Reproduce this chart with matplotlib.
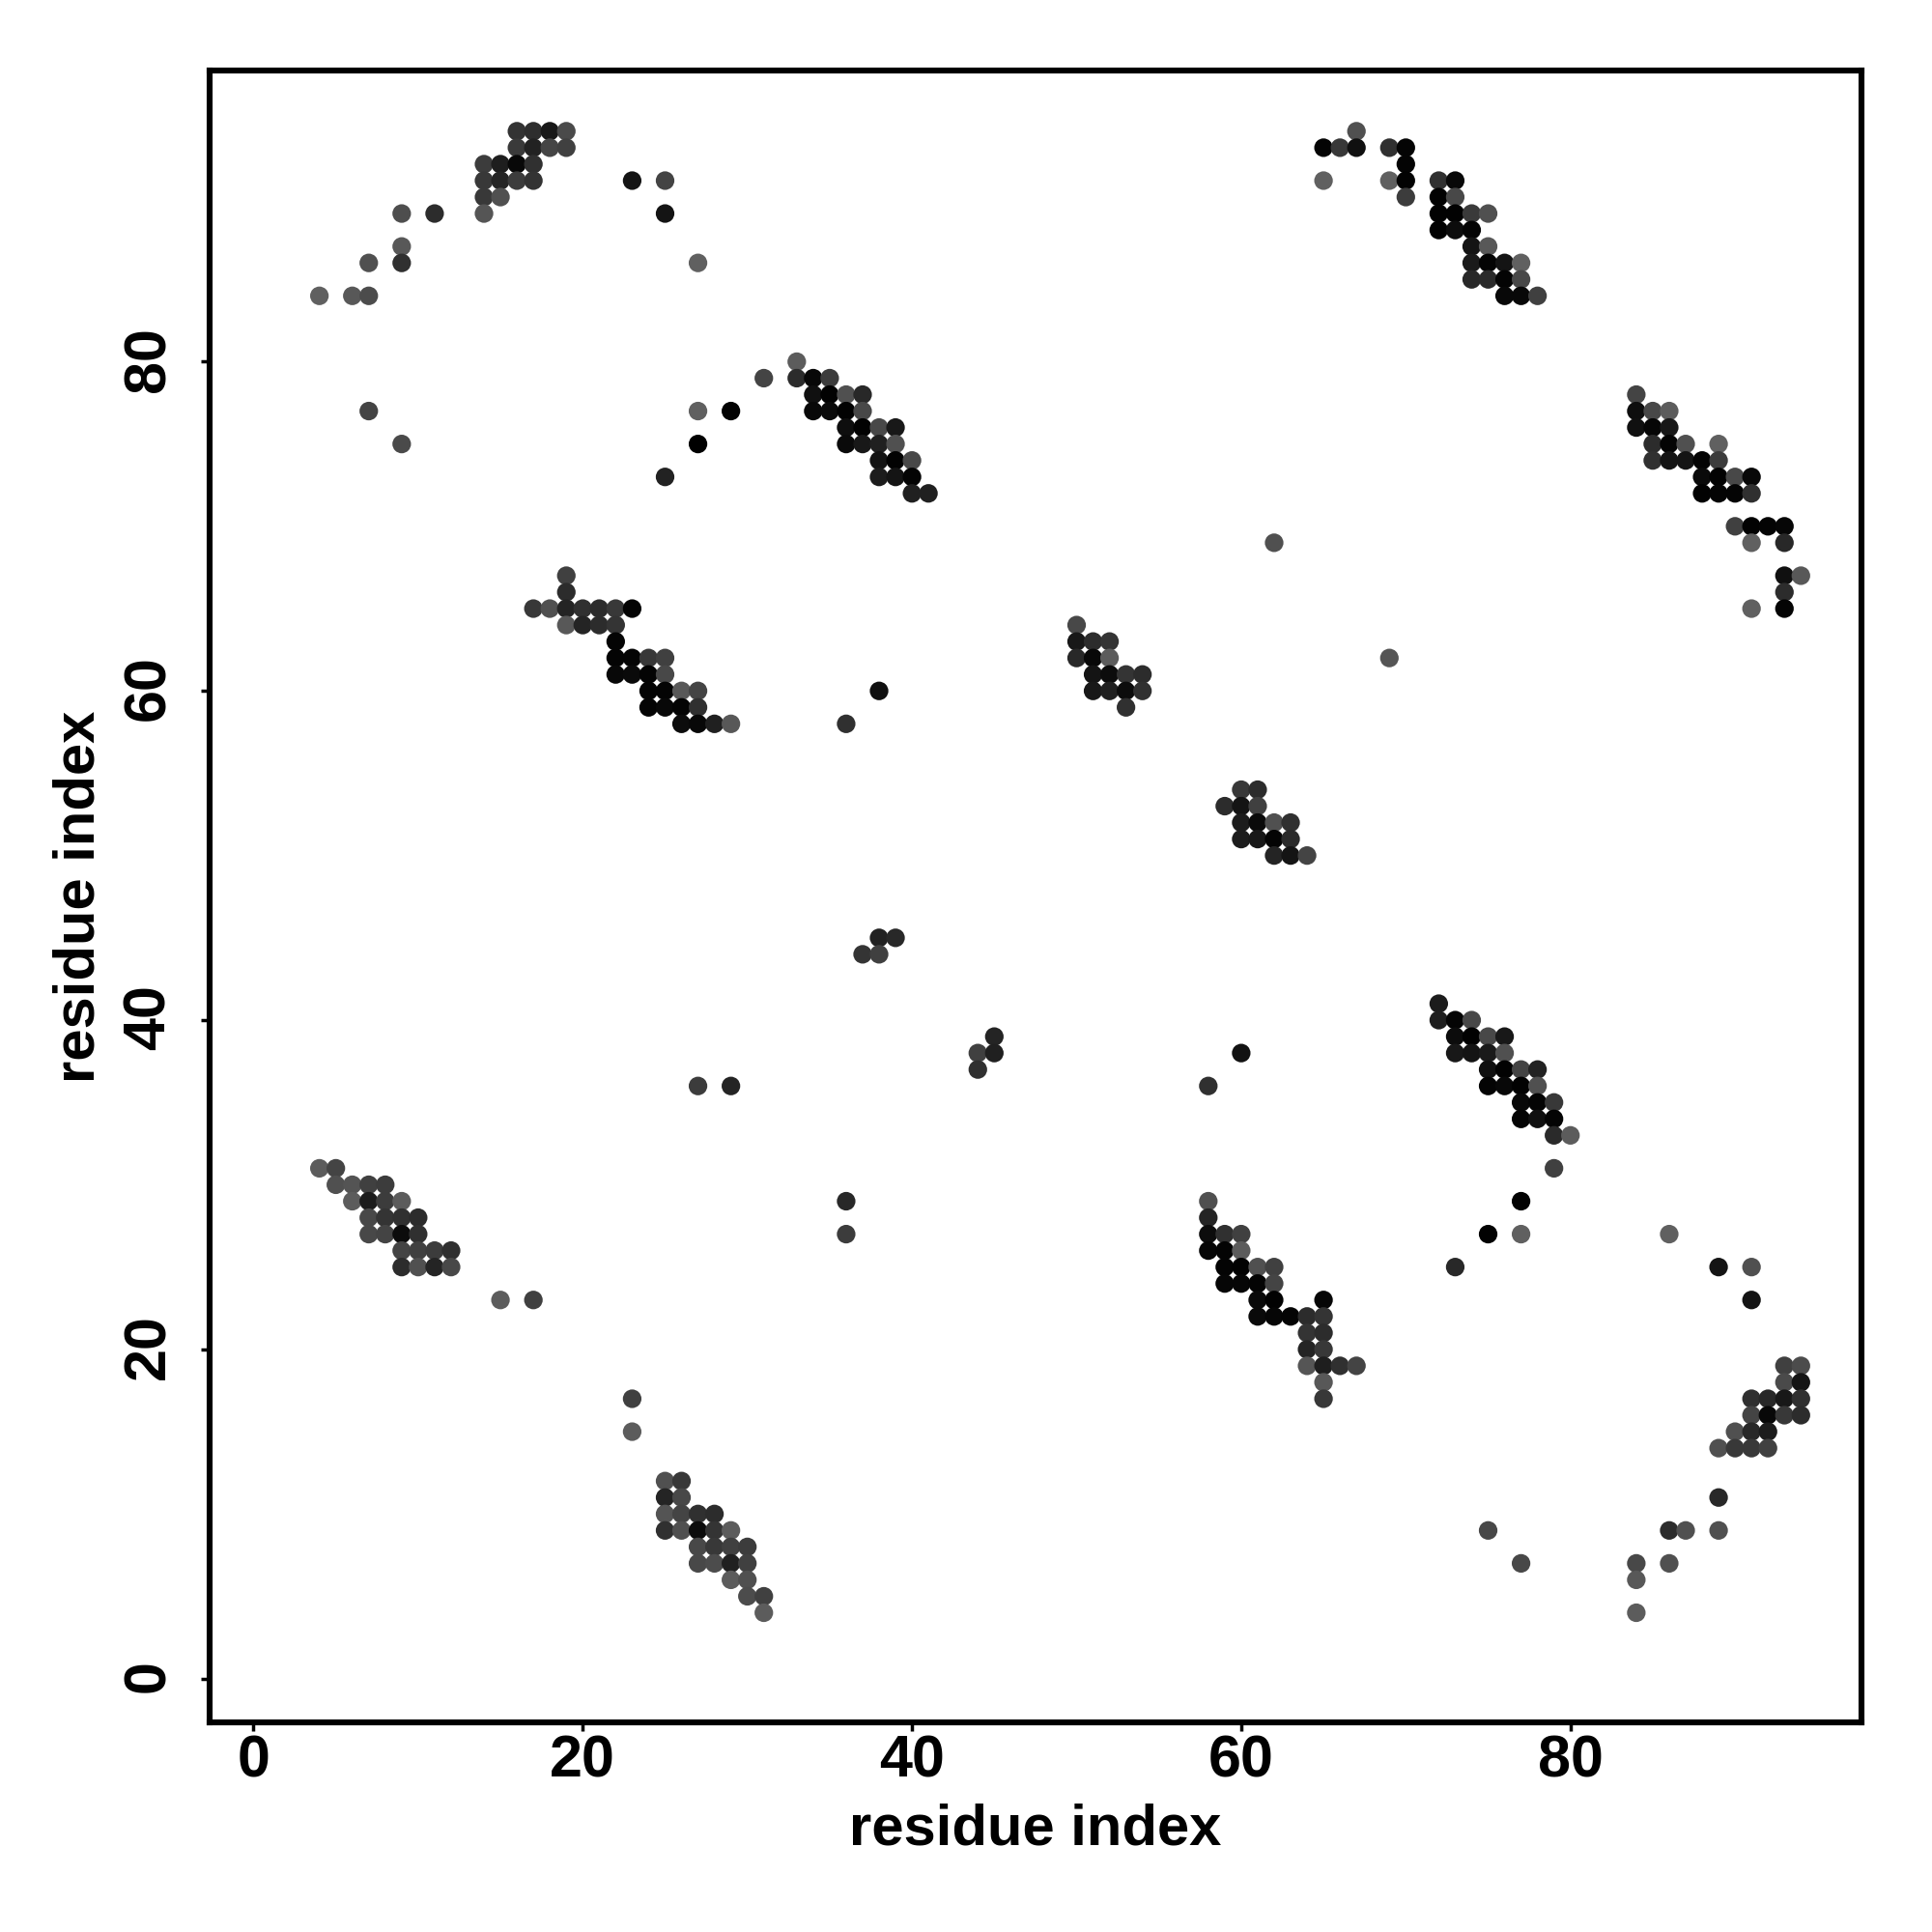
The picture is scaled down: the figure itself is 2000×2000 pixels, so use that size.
"""Residue contact map drawn in grey levels."""

import matplotlib

matplotlib.use("Agg")
import matplotlib.pyplot as plt
from matplotlib.transforms import ScaledTranslation

plt.rcParams["font.family"] = ["Liberation Sans", "DejaVu Sans"]
plt.rcParams["font.weight"] = "bold"

# one entry per row of the map: the y residue, the x residues, their grey level (0-255)
row_index = [
    94, 93, 92, 91, 90, 89, 88, 87, 86, 85, 84, 80, 79, 78, 77, 76, 75, 74, 73, 72,
    70, 69, 67, 66, 65, 64, 63, 62, 61, 60, 59, 58, 54, 53, 52, 51, 50, 45, 44, 41,
    40, 39, 38, 37, 36, 35, 34, 33, 31, 30, 29, 28, 27, 26, 25, 24, 23, 22, 21, 20,
    19, 18, 17, 16, 15, 14, 12, 11, 10, 9, 8, 7, 6, 5, 4,
]
row_residues = [
    [16, 17, 18, 19, 67],
    [16, 17, 18, 19, 65, 66, 67, 69, 70],
    [14, 15, 16, 17, 70],
    [14, 15, 16, 17, 23, 25, 65, 69, 70, 72, 73],
    [14, 15, 70, 72, 73],
    [9, 11, 14, 25, 72, 73, 74, 75],
    [72, 73, 74],
    [9, 74, 75],
    [7, 9, 27, 74, 75, 76, 77],
    [74, 75, 76, 77],
    [4, 6, 7, 76, 77, 78],
    [33],
    [31, 33, 34, 35],
    [34, 35, 36, 37, 84],
    [7, 27, 29, 34, 35, 36, 37, 84, 85, 86],
    [36, 37, 38, 39, 84, 85, 86],
    [9, 27, 36, 37, 38, 39, 85, 86, 87, 89],
    [38, 39, 40, 85, 86, 87, 88, 89],
    [25, 38, 39, 40, 88, 89, 90, 91],
    [40, 41, 88, 89, 90, 91],
    [90, 91, 92, 93],
    [62, 91, 93],
    [19, 93, 94],
    [19, 93],
    [17, 18, 19, 20, 21, 22, 23, 91, 93],
    [19, 20, 21, 22, 50],
    [22, 50, 51, 52],
    [22, 23, 24, 25, 50, 51, 52, 69],
    [22, 23, 24, 25, 51, 52, 53, 54],
    [24, 25, 26, 27, 38, 51, 52, 53, 54],
    [24, 25, 26, 27, 53],
    [26, 27, 28, 29, 36],
    [60, 61],
    [59, 60, 61],
    [60, 61, 62, 63],
    [60, 61, 62, 63],
    [62, 63, 64],
    [38, 39],
    [37, 38],
    [72],
    [72, 73, 74],
    [45, 73, 74, 75, 76],
    [44, 45, 60, 73, 74, 75, 76],
    [44, 75, 76, 77, 78],
    [27, 29, 58, 75, 76, 77, 78],
    [77, 78, 79],
    [77, 78, 79],
    [79, 80],
    [4, 5, 79],
    [5, 6, 7, 8],
    [6, 7, 8, 9, 36, 58, 77],
    [7, 8, 9, 10, 58],
    [7, 8, 9, 10, 36, 58, 59, 60, 75, 77, 86],
    [9, 10, 11, 12, 58, 59, 60],
    [9, 10, 11, 12, 59, 60, 61, 62, 73, 89, 91],
    [59, 60, 61, 62],
    [15, 17, 61, 62, 65, 91],
    [61, 62, 63, 64, 65],
    [64, 65],
    [64, 65],
    [64, 65, 66, 67, 93, 94],
    [65, 93, 94],
    [23, 65, 91, 92, 93, 94],
    [91, 92, 93, 94],
    [23, 90, 91, 92],
    [89, 90, 91, 92],
    [25, 26],
    [25, 26, 89],
    [25, 26, 27, 28],
    [25, 26, 27, 28, 29, 75, 86, 87, 89],
    [27, 28, 29, 30],
    [27, 28, 29, 30, 77, 84, 86],
    [29, 30, 84],
    [30, 31],
    [31, 84],
]
row_greys = [
    [0x33, 0x2e, 0x18, 0x4a, 0x50],
    [0x3a, 0x22, 0x45, 0x40, 0x04, 0x38, 0x10, 0x30, 0x04],
    [0x3c, 0x1e, 0x08, 0x30, 0x04],
    [0x38, 0x25, 0x3c, 0x33, 0x14, 0x44, 0x60, 0x60, 0x02, 0x30, 0x08],
    [0x38, 0x50, 0x3c, 0x02, 0x48],
    [0x4e, 0x2c, 0x55, 0x14, 0x02, 0x02, 0x3a, 0x50],
    [0x02, 0x0c, 0x04],
    [0x58, 0x14, 0x58],
    [0x50, 0x30, 0x60, 0x1a, 0x04, 0x14, 0x60],
    [0x28, 0x2a, 0x04, 0x48],
    [0x60, 0x58, 0x4c, 0x08, 0x08, 0x40],
    [0x5c],
    [0x44, 0x2c, 0x08, 0x3c],
    [0x10, 0x02, 0x50, 0x28, 0x44],
    [0x44, 0x60, 0x02, 0x08, 0x0a, 0x02, 0x48, 0x0e, 0x48, 0x5c],
    [0x0e, 0x02, 0x48, 0x18, 0x10, 0x06, 0x18],
    [0x4a, 0x00, 0x0a, 0x18, 0x20, 0x50, 0x2c, 0x04, 0x50, 0x60],
    [0x14, 0x02, 0x48, 0x30, 0x14, 0x14, 0x04, 0x3c],
    [0x22, 0x1c, 0x14, 0x04, 0x0a, 0x02, 0x48, 0x08],
    [0x20, 0x20, 0x02, 0x04, 0x04, 0x30],
    [0x40, 0x02, 0x04, 0x06],
    [0x50, 0x60, 0x28],
    [0x40, 0x10, 0x58],
    [0x2c, 0x2c],
    [0x38, 0x50, 0x24, 0x30, 0x2c, 0x38, 0x04, 0x60, 0x04],
    [0x58, 0x24, 0x2c, 0x34, 0x48],
    [0x04, 0x18, 0x2c, 0x34],
    [0x04, 0x04, 0x38, 0x40, 0x28, 0x08, 0x5c, 0x55],
    [0x08, 0x0a, 0x04, 0x48, 0x14, 0x0c, 0x34, 0x2c],
    [0x04, 0x04, 0x58, 0x44, 0x10, 0x18, 0x20, 0x0c, 0x30],
    [0x04, 0x08, 0x04, 0x30, 0x30],
    [0x0c, 0x08, 0x20, 0x58, 0x30],
    [0x38, 0x2c],
    [0x2c, 0x14, 0x40],
    [0x1c, 0x0a, 0x50, 0x30],
    [0x1c, 0x18, 0x04, 0x2a],
    [0x24, 0x14, 0x44],
    [0x22, 0x28],
    [0x34, 0x40],
    [0x1c],
    [0x1e, 0x04, 0x48],
    [0x24, 0x0c, 0x02, 0x48, 0x18],
    [0x40, 0x20, 0x12, 0x18, 0x14, 0x1a, 0x50],
    [0x30, 0x10, 0x02, 0x44, 0x22],
    [0x3c, 0x24, 0x30, 0x04, 0x08, 0x02, 0x50],
    [0x08, 0x04, 0x38],
    [0x04, 0x10, 0x04],
    [0x2a, 0x5c],
    [0x5c, 0x44, 0x40],
    [0x50, 0x54, 0x40, 0x3c],
    [0x5c, 0x1c, 0x3c, 0x5c, 0x28, 0x50, 0x02],
    [0x48, 0x34, 0x30, 0x2c, 0x24],
    [0x48, 0x44, 0x0c, 0x30, 0x3c, 0x0c, 0x30, 0x40, 0x02, 0x60, 0x60],
    [0x44, 0x40, 0x3c, 0x30, 0x06, 0x04, 0x5c],
    [0x2c, 0x50, 0x24, 0x48, 0x04, 0x02, 0x50, 0x40, 0x28, 0x14, 0x50],
    [0x06, 0x06, 0x04, 0x44],
    [0x5c, 0x40, 0x0a, 0x02, 0x06, 0x14],
    [0x0a, 0x06, 0x04, 0x2c, 0x34],
    [0x34, 0x2c],
    [0x24, 0x38],
    [0x55, 0x1e, 0x30, 0x44, 0x40, 0x4c],
    [0x58, 0x4a, 0x14],
    [0x40, 0x38, 0x30, 0x28, 0x18, 0x30],
    [0x44, 0x08, 0x38, 0x2c],
    [0x5c, 0x50, 0x28, 0x1c],
    [0x50, 0x38, 0x38, 0x40],
    [0x50, 0x38],
    [0x24, 0x48, 0x28],
    [0x54, 0x44, 0x30, 0x2c],
    [0x30, 0x50, 0x0c, 0x34, 0x5c, 0x48, 0x2c, 0x50, 0x50],
    [0x48, 0x38, 0x40, 0x3c],
    [0x48, 0x4c, 0x20, 0x40, 0x48, 0x48, 0x50],
    [0x5c, 0x50, 0x58],
    [0x4c, 0x40],
    [0x5c, 0x5c],
]
tick_values = [0, 20, 40, 60, 80]
axis_label = "residue index"


def main() -> None:
    xs, ys, colors = [], [], []
    for y, residues, greys in zip(row_index, row_residues, row_greys, strict=True):
        for x, grey in zip(residues, greys, strict=True):
            xs.append(x)
            ys.append(y)
            colors.append((grey / 255, grey / 255, grey / 255))

    fig = plt.figure(figsize=(10, 10), dpi=200)
    ax = fig.add_axes([0.1084, 0.1085, 0.8551, 0.8551])
    ax.scatter(xs, ys, s=48, c=colors, linewidths=0, zorder=2)

    ax.set_xlim(-2.68, 97.68)
    ax.set_ylim(-2.66, 97.70)
    ax.set_xticks(tick_values)
    ax.set_yticks(tick_values)
    ax.tick_params(length=3.1, width=1.25, labelsize=22)
    ax.tick_params(axis="x", pad=1.5)
    ax.tick_params(axis="y", pad=8.9)
    # the rotated labels sit a touch low when centred on their box
    nudge = ScaledTranslation(0, 1.0 / 72, fig.dpi_scale_trans)
    for label in ax.get_yticklabels():
        label.set_rotation(90)
        label.set_va("center")
        label.set_transform(label.get_transform() + nudge)
    ax.set_xlabel(axis_label, fontsize=21.5, fontweight="bold", labelpad=4.8)
    ax.set_ylabel(axis_label, fontsize=21.5, fontweight="bold", labelpad=6.2)
    for spine in ax.spines.values():
        spine.set_linewidth(2.2)

    fig.savefig("out.png", dpi=200)


if __name__ == "__main__":
    main()
